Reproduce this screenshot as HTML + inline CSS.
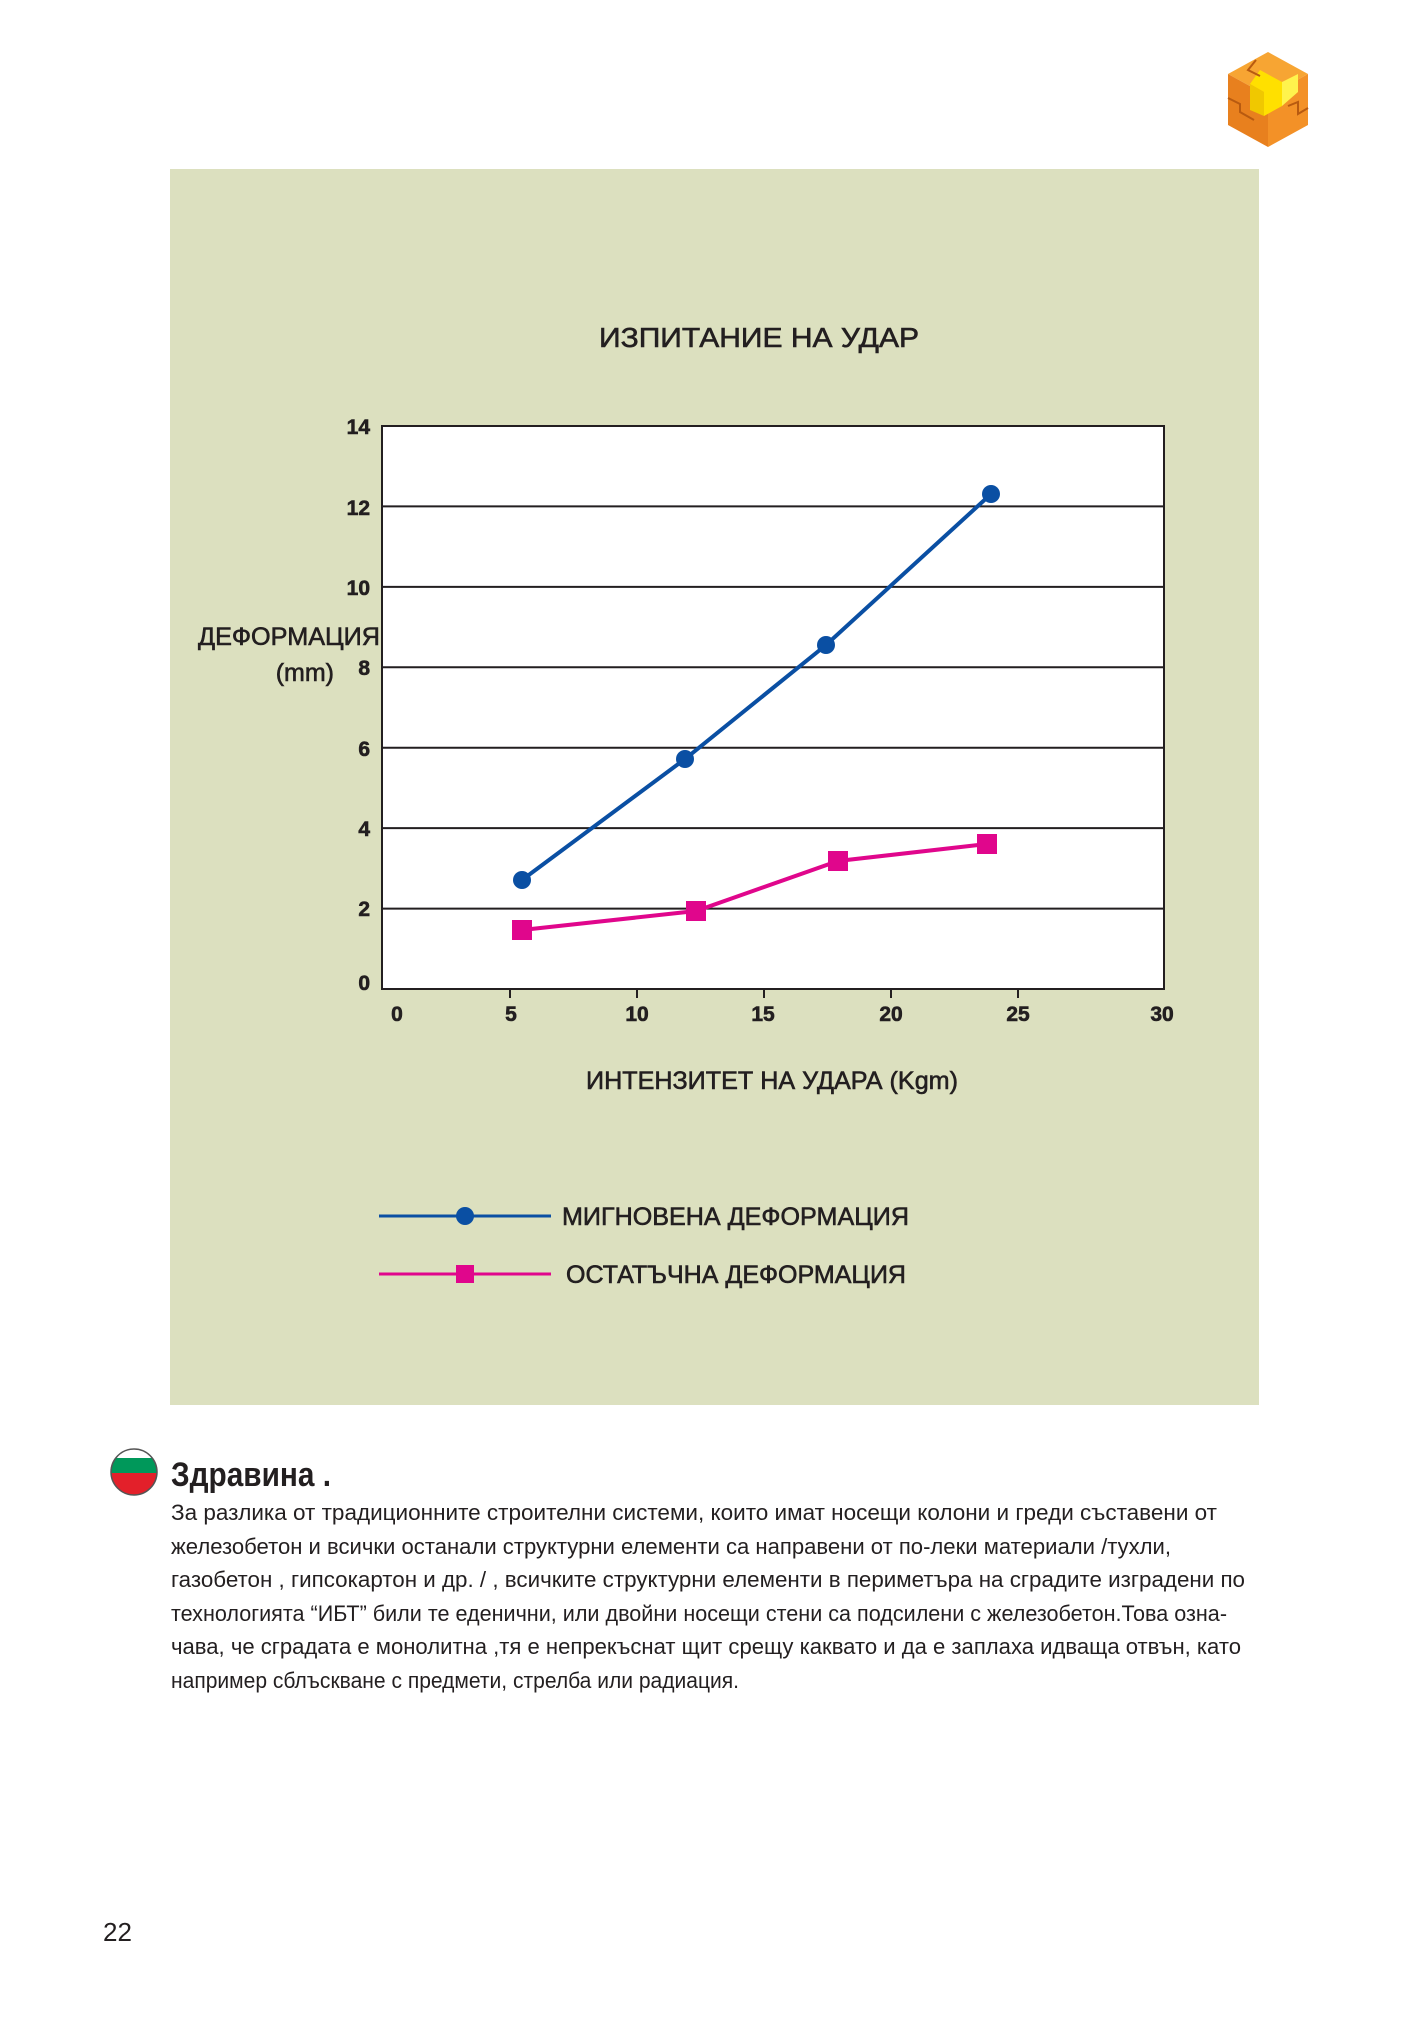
<!DOCTYPE html>
<html><head><meta charset="utf-8"><style>
html,body{margin:0;padding:0;background:#fff;}
svg{display:block;}
text{font-family:"Liberation Sans","DejaVu Sans",sans-serif;fill:#231f20;}
.m{stroke:#231f20;stroke-width:0.6;}
</style></head><body>
<svg width="1428" height="2018" viewBox="0 0 1428 2018" xmlns="http://www.w3.org/2000/svg">
<rect x="0" y="0" width="1428" height="2018" fill="#fff"/>
<g transform="translate(1268,100)">
<polygon points="0,-48 40,-26 0,-4 -40,-26" fill="#f7a533"/>
<polygon points="-40,-26 0,-4 0,47 -40,25" fill="#e8801e"/>
<polygon points="0,-4 40,-26 40,25 0,47" fill="#f39127"/>
<polygon points="-8,-30 14,-18 14,6 -4,16 -4,-8 -18,-16" fill="#ffe000"/>
<polygon points="14,-18 30,-26 30,-8 14,6" fill="#fff34d"/>
<polygon points="-18,-16 -4,-8 -4,16 -18,10" fill="#f0c800"/>
<path d="M-40,-2 L-28,4 L-28,12 L-14,20 M-12,-40 L-20,-30 L-8,-24 M20,6 L30,2 L30,14 L40,8" stroke="#b85a10" stroke-width="2" fill="none"/>
</g>
<rect x="170" y="169" width="1089" height="1236" fill="#dce0bf"/>
<text class="m" x="759" y="347" font-size="28" text-anchor="middle" textLength="320" lengthAdjust="spacingAndGlyphs">ИЗПИТАНИЕ НА УДАР</text>
<rect x="382" y="426" width="782" height="563" fill="#fff" stroke="#231f20" stroke-width="2"/>
<g stroke="#231f20" stroke-width="2">
<line x1="382" y1="506.4" x2="1164" y2="506.4"/>
<line x1="382" y1="586.9" x2="1164" y2="586.9"/>
<line x1="382" y1="667.3" x2="1164" y2="667.3"/>
<line x1="382" y1="747.7" x2="1164" y2="747.7"/>
<line x1="382" y1="828.1" x2="1164" y2="828.1"/>
<line x1="382" y1="908.6" x2="1164" y2="908.6"/>
<line x1="510" y1="989" x2="510" y2="998"/>
<line x1="637" y1="989" x2="637" y2="998"/>
<line x1="764" y1="989" x2="764" y2="998"/>
<line x1="891" y1="989" x2="891" y2="998"/>
<line x1="1018" y1="989" x2="1018" y2="998"/>
</g>
<g font-size="21" font-weight="bold" text-anchor="end" class="m">
<text x="370" y="434">14</text>
<text x="370" y="515">12</text>
<text x="370" y="595">10</text>
<text x="370" y="675">8</text>
<text x="370" y="756">6</text>
<text x="370" y="836">4</text>
<text x="370" y="916">2</text>
<text x="370" y="990">0</text>
</g>
<g font-size="21" font-weight="bold" text-anchor="middle" class="m">
<text x="397" y="1021">0</text>
<text x="511" y="1021">5</text>
<text x="637" y="1021">10</text>
<text x="763" y="1021">15</text>
<text x="891" y="1021">20</text>
<text x="1018" y="1021">25</text>
<text x="1162" y="1021">30</text>
</g>
<text class="m" x="380" y="645" font-size="25" text-anchor="end" textLength="182" lengthAdjust="spacingAndGlyphs">ДЕФОРМАЦИЯ</text>
<text class="m" x="334" y="681" font-size="25" text-anchor="end">(mm)</text>
<text class="m" x="586" y="1089" font-size="25" textLength="372" lengthAdjust="spacingAndGlyphs">ИНТЕНЗИТЕТ НА УДАРА (Kgm)</text>
<polyline points="522,880 685,759 826,645 991,494" fill="none" stroke="#0a4fa3" stroke-width="4"/>
<g fill="#0a4fa3">
<circle cx="522" cy="880" r="9"/><circle cx="685" cy="759" r="9"/><circle cx="826" cy="645" r="9"/><circle cx="991" cy="494" r="9"/>
</g>
<polyline points="522,930 696,911 838,861 987,844" fill="none" stroke="#e0068c" stroke-width="4"/>
<g fill="#e0068c">
<rect x="512" y="920" width="20" height="20"/><rect x="686" y="901" width="20" height="20"/><rect x="828" y="851" width="20" height="20"/><rect x="977" y="834" width="20" height="20"/>
</g>
<line x1="379" y1="1216" x2="551" y2="1216" stroke="#0a4fa3" stroke-width="3"/>
<circle cx="465" cy="1216" r="9" fill="#0a4fa3"/>
<text class="m" x="562" y="1225" font-size="25" textLength="347" lengthAdjust="spacingAndGlyphs">МИГНОВЕНА ДЕФОРМАЦИЯ</text>
<line x1="379" y1="1274" x2="551" y2="1274" stroke="#e0068c" stroke-width="3"/>
<rect x="456" y="1265" width="18" height="18" fill="#e0068c"/>
<text class="m" x="566" y="1283" font-size="25" textLength="340" lengthAdjust="spacingAndGlyphs">ОСТАТЪЧНА ДЕФОРМАЦИЯ</text>
<clipPath id="fc"><circle cx="134" cy="1472" r="23"/></clipPath>
<g clip-path="url(#fc)">
<rect x="110" y="1448" width="48" height="48" fill="#e3202a"/>
<rect x="110" y="1448" width="48" height="10" fill="#fff"/>
<rect x="110" y="1458" width="48" height="15" fill="#00985a"/>
</g>
<circle cx="134" cy="1472" r="23" fill="none" stroke="#555" stroke-width="1.5"/>
<text x="171" y="1486" font-size="34" font-weight="bold" textLength="160" lengthAdjust="spacingAndGlyphs">Здравина .</text>
<g font-size="22">
<text x="171" y="1520" textLength="1046" lengthAdjust="spacingAndGlyphs">За разлика от традиционните строителни системи, които имат носещи колони и греди съставени от</text>
<text x="171" y="1554" textLength="1000" lengthAdjust="spacingAndGlyphs">железобетон и всички останали структурни елементи са направени от по-леки материали /тухли,</text>
<text x="171" y="1587" textLength="1074" lengthAdjust="spacingAndGlyphs">газобетон , гипсокартон и др. / , всичките структурни елементи в периметъра на сградите изградени по</text>
<text x="171" y="1621" textLength="1056" lengthAdjust="spacingAndGlyphs">технологията “ИБТ” били те еденични, или двойни носещи стени са подсилени с железобетон.Това озна-</text>
<text x="171" y="1654" textLength="1070" lengthAdjust="spacingAndGlyphs">чава, че сградата е монолитна ,тя е непрекъснат щит срещу каквато и да е заплаха идваща отвън, като</text>
<text x="171" y="1688" textLength="568" lengthAdjust="spacingAndGlyphs">например сблъскване с предмети, стрелба или радиация.</text>
</g>
<text x="103" y="1941" font-size="26">22</text>
</svg>
</body></html>
